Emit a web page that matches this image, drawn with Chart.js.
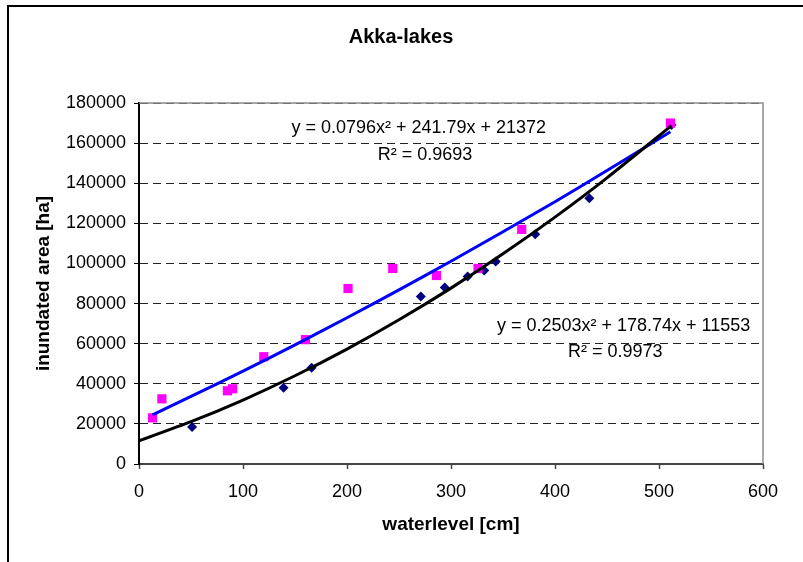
<!DOCTYPE html>
<html>
<head>
<meta charset="utf-8">
<script src="https://cdn.jsdelivr.net/npm/chart.js@4/dist/chart.umd.min.js"></script>
<style>
  html, body { margin: 0; padding: 0; background: #fff; }
  #wrap { width: 803px; height: 562px; }
</style>
</head>
<body>
<div id="wrap"><canvas id="akka" width="803" height="562"></canvas></div>
<script>
// measured points (magenta squares / navy diamonds)
const squareLevels = [13, 22, 85, 90, 120, 160, 201, 244, 286, 326, 368, 511];
const squareAreas = [23000, 32500, 36500, 37500, 53500, 62000, 87500, 97500, 94000, 97500, 117000, 170000];
const diamondLevels = [51, 139, 166, 271, 294, 316, 332, 343, 381, 433, 512];
const diamondAreas = [18500, 38000, 48000, 83500, 88000, 93500, 96500, 101000, 114500, 132500, 169000];

// trendlines
const blueFitLevels = [13, 50, 100, 150, 200, 250, 300, 350, 400, 450, 511];
const blueFitAreas = [24500, 33700, 46300, 59400, 72900, 86800, 101100, 115800, 130800, 146300, 165700];
const blackFitLevels = [0, 50, 100, 150, 200, 250, 300, 350, 400, 450, 512];
const blackFitAreas = [11550, 21100, 31900, 44000, 57300, 71900, 87700, 104800, 123100, 142700, 168700];

const xTicks = [0, 100, 200, 300, 400, 500, 600];
const yTicks = [0, 20000, 40000, 60000, 80000, 100000, 120000, 140000, 160000, 180000];

const chartTitle = "Akka-lakes";
const xTitle = "waterlevel [cm]";
const yTitle = "inundated area [ha]";

// trendline labels: text, anchor level, anchor area
const fitLabels = [
  ["y = 0.0796x\u00B2 + 241.79x + 21372", 269, 167600],
  ["R\u00B2 = 0.9693", 275, 154100],
  ["y = 0.2503x\u00B2 + 178.74x + 11553", 466, 68800],
  ["R\u00B2 = 0.9973", 458, 55900],
];

function pairs(xs, ys) {
  return xs.map(function (x, i) { return { x: x, y: ys[i] }; });
}

const FONT = "'Liberation Sans', Arial, sans-serif";

const decorations = {
  id: "decorations",
  beforeDraw: function (chart) {
    const ctx = chart.ctx;
    ctx.save();
    ctx.fillStyle = "#fff";
    ctx.fillRect(0, 0, chart.width, chart.height);
    // outer frame (only left and top visible)
    ctx.strokeStyle = "#000";
    ctx.lineWidth = 2;
    ctx.beginPath();
    ctx.moveTo(8, chart.height);
    ctx.lineTo(8, 6);
    ctx.lineTo(chart.width, 6);
    ctx.stroke();
    ctx.restore();
  },
  afterDatasetsDraw: function (chart) {
    const ctx = chart.ctx;
    const a = chart.chartArea;
    ctx.save();
    // plot area border top / right
    ctx.strokeStyle = "#8c8c8c";
    ctx.lineWidth = 1.5;
    ctx.beginPath();
    ctx.moveTo(a.left, a.top);
    ctx.lineTo(a.right, a.top);
    ctx.lineTo(a.right, a.bottom);
    ctx.stroke();

    ctx.fillStyle = "#000";
    ctx.font = "bold 20px " + FONT;
    ctx.textAlign = "center";
    ctx.textBaseline = "middle";
    ctx.fillText(chartTitle, 401, 37);

    ctx.font = "18px " + FONT;
    const xs = chart.scales.x;
    const ys = chart.scales.y;
    fitLabels.forEach(function (l) {
      ctx.fillText(l[0], xs.getPixelForValue(l[1]), ys.getPixelForValue(l[2]));
    });
    ctx.restore();
  },
};

document.addEventListener("DOMContentLoaded", function () {
  const el = document.getElementById("akka");
  new Chart(el, {
    type: "scatter",
    data: {
      datasets: [
        {
          label: "fit 2",
          data: pairs(blackFitLevels, blackFitAreas),
          showLine: true,
          borderColor: "#000000",
          borderWidth: 3,
          pointRadius: 0,
          tension: 0.2,
          fill: false,
        },
        {
          label: "fit 1",
          data: pairs(blueFitLevels, blueFitAreas),
          showLine: true,
          borderColor: "#0000ff",
          borderWidth: 3,
          pointRadius: 0,
          tension: 0.2,
          fill: false,
        },
        {
          label: "series 1",
          data: pairs(squareLevels, squareAreas),
          pointStyle: "rect",
          pointRadius: 6.5,
          backgroundColor: "#ff00ff",
          borderColor: "#ff00ff",
          borderWidth: 0,
        },
        {
          label: "series 2",
          data: pairs(diamondLevels, diamondAreas),
          pointStyle: "rectRot",
          pointRadius: 5,
          backgroundColor: "#000080",
          borderColor: "#000080",
          borderWidth: 0,
        },
      ],
    },
    options: {
      responsive: false,
      animation: false,
      layout: {
        padding: { left: 0, top: 103, right: 40, bottom: 0 },
      },
      scales: {
        x: {
          type: "linear",
          min: 0,
          max: 600,
          afterBuildTicks: function (s) {
            s.ticks = xTicks.map(function (v) { return { value: v }; });
          },
          afterFit: function (s) { s.height = 98; },
          grid: {
            drawOnChartArea: false,
            drawTicks: true,
            tickLength: 5,
            tickColor: "#444",
            tickWidth: 1.5,
          },
          border: { color: "#444", width: 2 },
          ticks: {
            color: "#000",
            padding: 12,
            maxRotation: 0,
            font: { family: FONT, size: 18 },
          },
          title: {
            display: true,
            text: xTitle,
            color: "#000",
            padding: { top: 0, bottom: 26 },
            font: { family: FONT, size: 19, weight: "bold" },
          },
        },
        y: {
          type: "linear",
          min: 0,
          max: 180000,
          afterBuildTicks: function (s) {
            s.ticks = yTicks.map(function (v) { return { value: v }; });
          },
          afterFit: function (s) { s.width = 139; },
          grid: {
            color: "#222",
            lineWidth: 1,
            drawTicks: true,
            tickLength: 5,
            tickColor: "#000",
            tickWidth: 1,
          },
          border: { color: "#000", width: 2, dash: [8, 5] },
          ticks: {
            color: "#000",
            padding: 8,
            font: { family: FONT, size: 18 },
            callback: function (v) { return String(v); },
          },
          title: {
            display: true,
            text: yTitle,
            color: "#000",
            padding: { top: 32, bottom: 0 },
            font: { family: FONT, size: 19, weight: "bold" },
          },
        },
      },
      plugins: {
        legend: { display: false },
        tooltip: { enabled: false },
      },
    },
    plugins: [decorations],
  });
});
</script>
</body>
</html>
